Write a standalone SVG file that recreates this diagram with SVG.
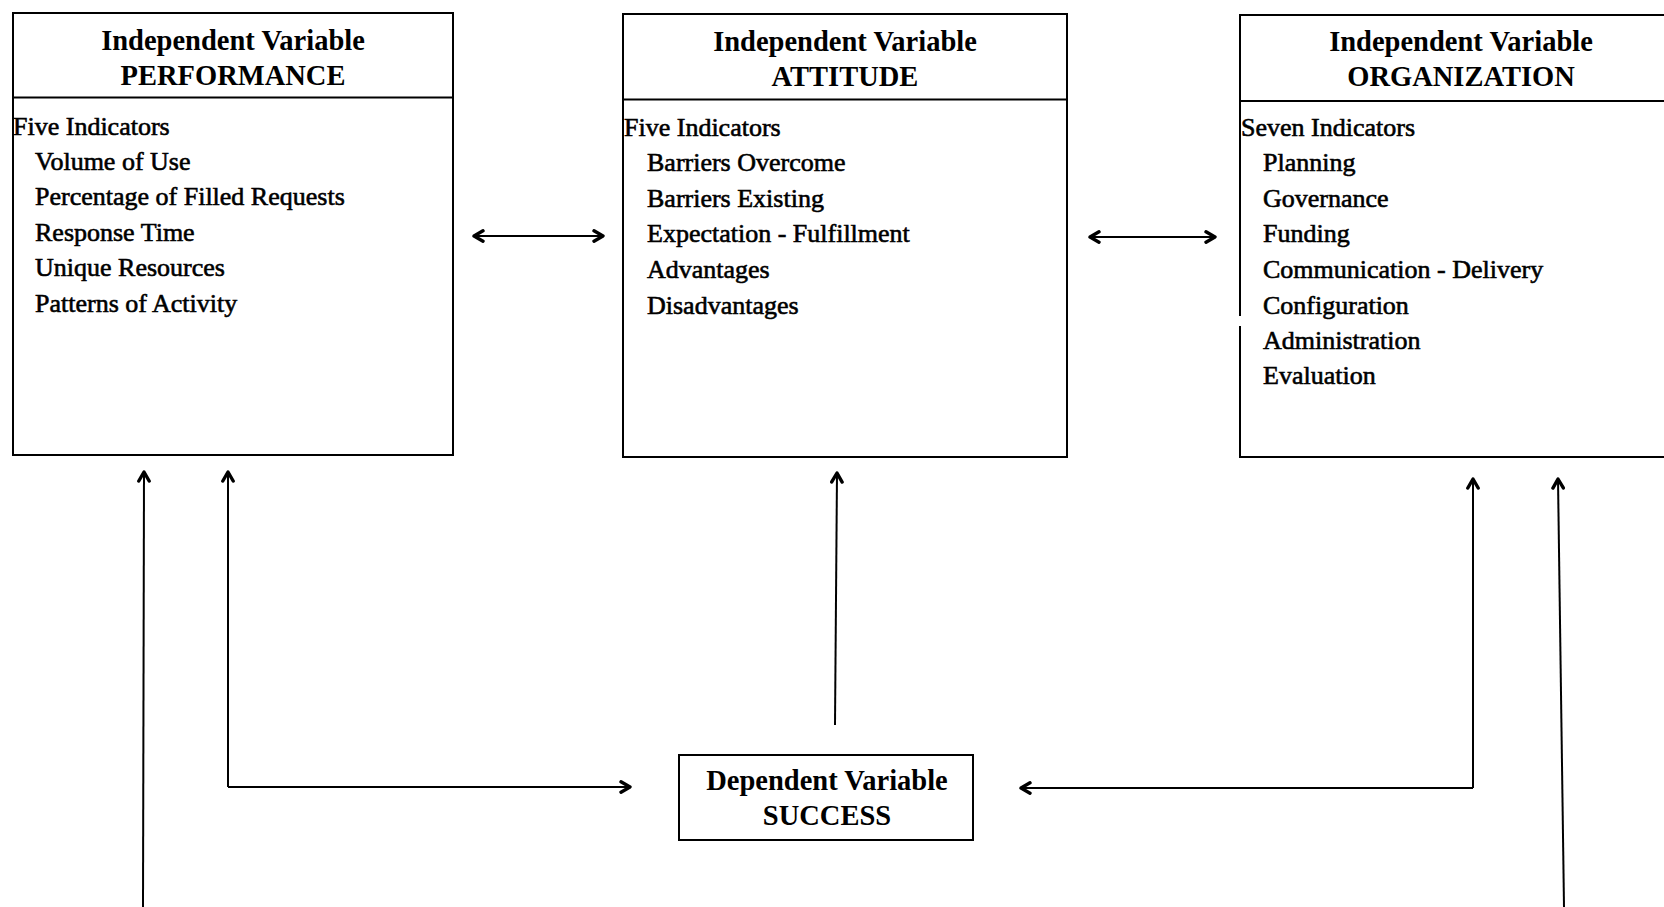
<svg xmlns="http://www.w3.org/2000/svg" width="1664" height="907" viewBox="0 0 1664 907">
<style>
.box{fill:#fff;stroke:#000;stroke-width:2}
.div{stroke:#000;stroke-width:2}
.hd{font-family:"Liberation Serif","Times New Roman",serif;font-weight:bold;font-size:28.5px;text-anchor:middle;fill:#000}
.bd{font-family:"Liberation Serif","Times New Roman",serif;font-size:26px;fill:#000;stroke:#000;stroke-width:0.6}
.ln{fill:none;stroke:#000;stroke-width:2}
</style>
<defs>
<marker id="ah" viewBox="0 0 14 14" refX="12" refY="7" markerWidth="14" markerHeight="14" markerUnits="userSpaceOnUse" orient="auto-start-reverse">
<path d="M3,1.8 L12,7 L3,12.2" fill="none" stroke="#000" stroke-width="3.4" stroke-linecap="round" stroke-linejoin="round"/>
</marker>
</defs>
<rect width="1664" height="907" fill="#fff"/>

<g id="performance">
<rect class="box" x="13" y="13" width="440" height="442"/>
<line class="div" x1="13" y1="97.5" x2="453" y2="97.5"/>
<text class="hd" x="233" y="50">Independent Variable</text>
<text class="hd" x="233" y="85">PERFORMANCE</text>
<text class="bd" x="13" y="135">Five Indicators</text>
<text class="bd" x="35" y="170">Volume of Use</text>
<text class="bd" x="35" y="205">Percentage of Filled Requests</text>
<text class="bd" x="35" y="241">Response Time</text>
<text class="bd" x="35" y="276">Unique Resources</text>
<text class="bd" x="35" y="312">Patterns of Activity</text>
</g>

<g id="attitude">
<rect class="box" x="623" y="14" width="444" height="443"/>
<line class="div" x1="623" y1="99.5" x2="1067" y2="99.5"/>
<text class="hd" x="845" y="51">Independent Variable</text>
<text class="hd" x="845" y="86">ATTITUDE</text>
<text class="bd" x="624" y="136">Five Indicators</text>
<text class="bd" x="647" y="171">Barriers Overcome</text>
<text class="bd" x="647" y="207">Barriers Existing</text>
<text class="bd" x="647" y="242">Expectation - Fulfillment</text>
<text class="bd" x="647" y="278">Advantages</text>
<text class="bd" x="647" y="314">Disadvantages</text>
</g>

<g id="organization">
<path class="ln" d="M1240,316 V15 H1670 M1670,457 H1240 V326"/>
<line class="div" x1="1240" y1="101" x2="1670" y2="101"/>
<text class="hd" x="1461" y="51">Independent Variable</text>
<text class="hd" x="1461" y="86">ORGANIZATION</text>
<text class="bd" x="1241" y="136">Seven Indicators</text>
<text class="bd" x="1263" y="171">Planning</text>
<text class="bd" x="1263" y="207">Governance</text>
<text class="bd" x="1263" y="242">Funding</text>
<text class="bd" x="1263" y="278">Communication - Delivery</text>
<text class="bd" x="1263" y="314">Configuration</text>
<text class="bd" x="1263" y="349">Administration</text>
<text class="bd" x="1263" y="384">Evaluation</text>
</g>

<g id="success">
<rect class="box" x="679" y="755" width="294" height="85"/>
<text class="hd" x="827" y="790">Dependent Variable</text>
<text class="hd" x="827" y="825">SUCCESS</text>
</g>

<g id="connectors">
<line class="ln" x1="474" y1="236" x2="603" y2="236" marker-start="url(#ah)" marker-end="url(#ah)"/>
<line class="ln" x1="1090" y1="237" x2="1215" y2="237" marker-start="url(#ah)" marker-end="url(#ah)"/>
<line class="ln" x1="143" y1="907" x2="144" y2="472" marker-end="url(#ah)"/>
<path class="ln" d="M228,787 V472" marker-end="url(#ah)"/>
<path class="ln" d="M228,787 H630" marker-end="url(#ah)"/>
<line class="ln" x1="835" y1="725" x2="837" y2="473" marker-end="url(#ah)"/>
<path class="ln" d="M1473,788 V479" marker-end="url(#ah)"/>
<path class="ln" d="M1473,788 H1021" marker-end="url(#ah)"/>
<line class="ln" x1="1564" y1="907" x2="1558" y2="479" marker-end="url(#ah)"/>
</g>
</svg>
